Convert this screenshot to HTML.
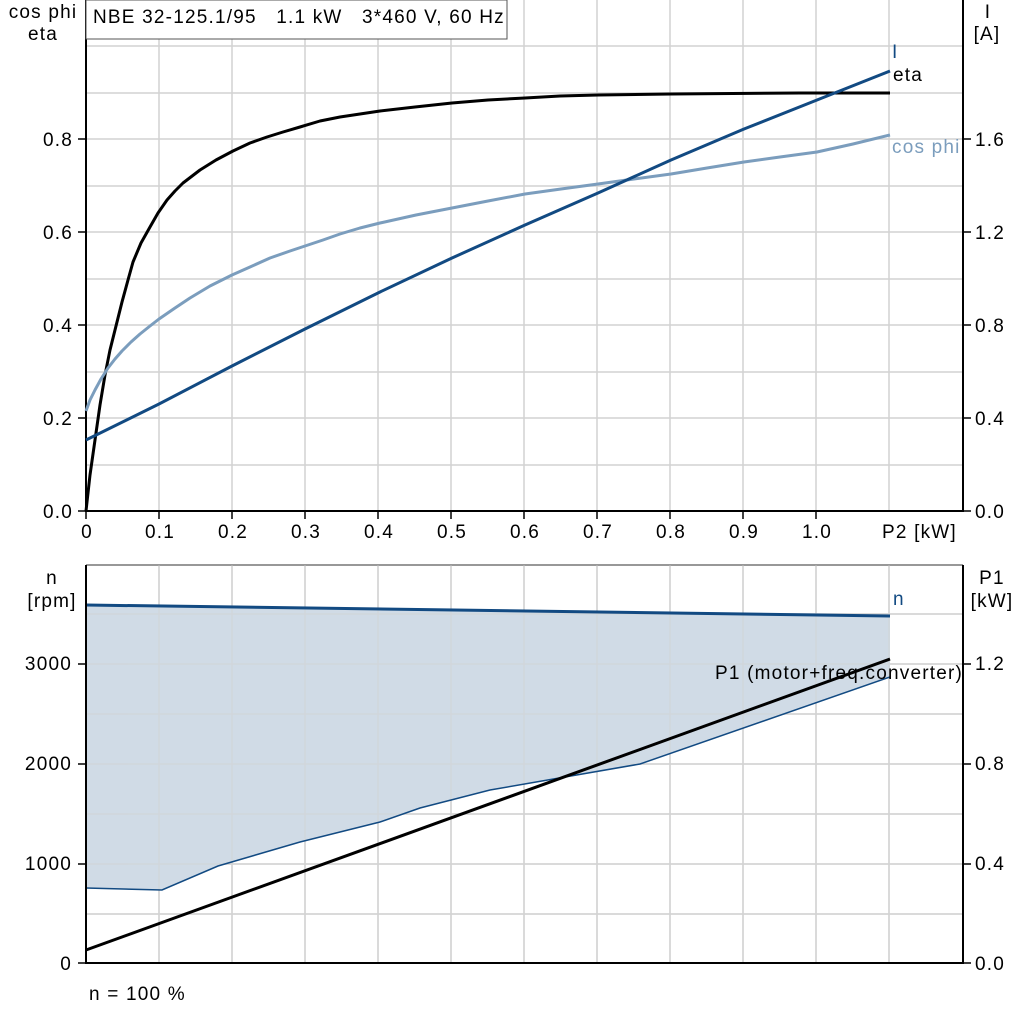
<!DOCTYPE html>
<html><head><meta charset="utf-8"><style>
html,body{margin:0;padding:0;background:#fff;}
svg{display:block;font-family:"Liberation Sans",sans-serif;}
svg text{letter-spacing:1.2px;}
</style></head><body>
<svg width="1024" height="1024" viewBox="0 0 1024 1024" xmlns="http://www.w3.org/2000/svg">
<g stroke="#d2d2d2" stroke-width="1.5" fill="none">
<path d="M159 0V511M232 0V511M305 0V511M378 0V511M451 0V511M524 0V511M597 0V511M670 0V511M743 0V511M816 0V511M889 0V511"/>
<path d="M86 465H963M86 418H963M86 372H963M86 325H963M86 279H963M86 232H963M86 186H963M86 139H963M86 93H963M86 46H963"/>
<path d="M159 565V963M232 565V963M305 565V963M378 565V963M451 565V963M524 565V963M597 565V963M670 565V963M743 565V963M816 565V963M889 565V963"/>
<path d="M86 914H963M86 864H963M86 814H963M86 764H963M86 714H963M86 664H963M86 614H963"/>
</g>
<path d="M86 565H963" stroke="#777" stroke-width="1.5"/>
<path d="M86 0V511H963V0" stroke="#000" stroke-width="2" fill="none"/>
<g stroke="#000" stroke-width="1.5">
<path d="M78 511H86M78 418H86M78 325H86M78 232H86M78 139H86"/>
<path d="M963 511H971M963 418H971M963 325H971M963 232H971M963 139H971"/>
<path d="M86 511V519M159 511V519M232 511V519M305 511V519M378 511V519M451 511V519M524 511V519M597 511V519M670 511V519M743 511V519M816 511V519"/>
</g>
<rect x="86" y="0" width="421" height="39" fill="#fff" stroke="#555" stroke-width="1"/>
<text x="93" y="23" font-size="19" xml:space="preserve" style="white-space:pre">NBE 32-125.1/95   1.1 kW   3*460 V, 60 Hz</text>
<g font-size="19" text-anchor="end">
<text x="73" y="518">0.0</text><text x="73" y="425">0.2</text><text x="73" y="332">0.4</text><text x="73" y="239">0.6</text><text x="73" y="146">0.8</text>
</g>
<g font-size="19" text-anchor="start">
<text x="975" y="518">0.0</text><text x="975" y="425">0.4</text><text x="975" y="332">0.8</text><text x="975" y="239">1.2</text><text x="975" y="146">1.6</text>
</g>
<g font-size="19" text-anchor="middle">
<text x="87" y="538">0</text><text x="160" y="538">0.1</text><text x="233" y="538">0.2</text><text x="306" y="538">0.3</text><text x="379" y="538">0.4</text><text x="452" y="538">0.5</text><text x="525" y="538">0.6</text><text x="598" y="538">0.7</text><text x="671" y="538">0.8</text><text x="744" y="538">0.9</text><text x="817" y="538">1.0</text>
</g>
<text x="882" y="538" font-size="19">P2 [kW]</text>
<text x="43" y="18" font-size="19" text-anchor="middle">cos phi</text>
<text x="43" y="40" font-size="19" text-anchor="middle">eta</text>
<text x="988" y="18" font-size="19" text-anchor="middle">I</text>
<text x="987" y="40" font-size="19" text-anchor="middle">[A]</text>
<polyline fill="none" stroke="#000" stroke-width="3" stroke-linejoin="round" points="86,511 90,475 95,440 100,405 105,375 110,350 115,330 122,302 128,280 133,262 141,243 150,227 158,213 167,200 175,191 183,183 200,170 216,160 233,151 250,143 267,137 283,132 300,127 320,121 340,117 360,114 380,111 415,107 452,103 488,100 525,98 560,96 598,95 671,94 800,93 890,93"/>
<polyline fill="none" stroke="#7b9dbd" stroke-width="3" stroke-linejoin="round" points="86,411 90,400 95,390 101,379 108,368 115,359 122,351 131,342 140,334 150,326 159,319 175,308 190,298 210,286 232,275 250,267 270,258 290,251 305,246 323,240 340,234 360,228 380,223 416,215 452,208 488,201 525,194 561,189 598,184 634,179 671,174 707,168 744,162 780,157 817,152 853,144 890,135"/>
<polyline fill="none" stroke="#124a82" stroke-width="3" stroke-linejoin="round" points="86,440 159,404 232,366 305,329 380,292 452,258 525,225 598,193 671,160 744,129 817,100 890,71"/>
<text x="892" y="58" font-size="19" fill="#124a82">I</text>
<text x="893" y="81" font-size="19">eta</text>
<text x="892" y="153" font-size="19" fill="#7b9dbd">cos phi</text>
<polygon fill="#d0dbe6" points="86,605 890,616 890,677 640,764 490,790 420,808 380,822 300,842 218,866 162,890 86,888"/>
<g stroke="#d2d2d2" stroke-width="1.5" fill="none" opacity="0.5">
<path d="M159 565V963M232 565V963M305 565V963M378 565V963M451 565V963M524 565V963M597 565V963M670 565V963M743 565V963M816 565V963M889 565V963"/>
<path d="M86 914H963M86 864H963M86 814H963M86 764H963M86 714H963M86 664H963M86 614H963"/>
</g>
<polyline fill="none" stroke="#124a82" stroke-width="3" points="86,605 890,616"/>
<polyline fill="none" stroke="#124a82" stroke-width="1.5" points="86,888 162,890 218,866 300,842 380,822 420,808 490,790 640,764 890,677"/>
<polyline fill="none" stroke="#000" stroke-width="3" points="86,950 890,659"/>
<path d="M86 565V963H963V565" stroke="#000" stroke-width="2" fill="none"/>
<g stroke="#000" stroke-width="1.5">
<path d="M78 963H86M78 864H86M78 764H86M78 664H86"/>
<path d="M963 963H971M963 864H971M963 764H971M963 664H971"/>
</g>
<g font-size="19" text-anchor="end">
<text x="72" y="970">0</text><text x="72" y="870">1000</text><text x="72" y="770">2000</text><text x="72" y="670">3000</text>
</g>
<g font-size="19">
<text x="975" y="970">0.0</text><text x="975" y="870">0.4</text><text x="975" y="770">0.8</text><text x="975" y="670">1.2</text>
</g>
<text x="52" y="584" font-size="19" text-anchor="middle">n</text>
<text x="52" y="607" font-size="19" text-anchor="middle">[rpm]</text>
<text x="992" y="584" font-size="19" text-anchor="middle">P1</text>
<text x="992" y="607" font-size="19" text-anchor="middle">[kW]</text>
<text x="893" y="605" font-size="19" fill="#124a82">n</text>
<text x="715" y="679" font-size="19">P1 (motor+freq.converter)</text>
<text x="89" y="1000" font-size="19">n = 100 %</text>
</svg>
</body></html>
